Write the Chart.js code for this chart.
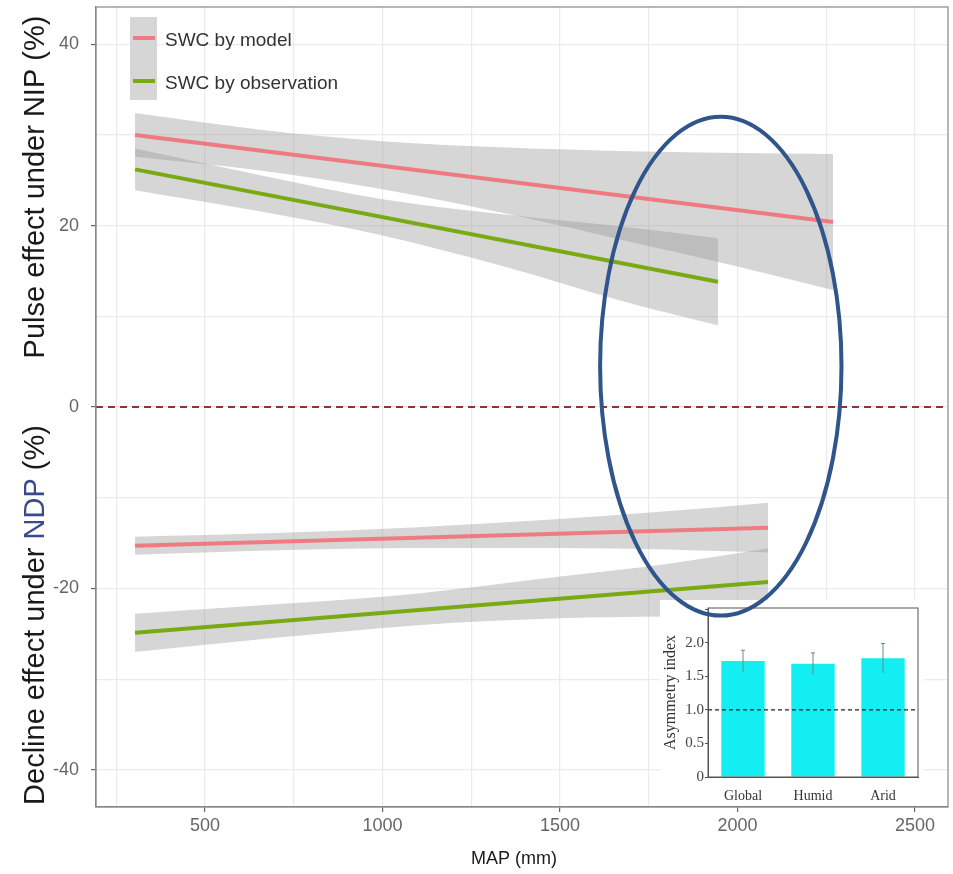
<!DOCTYPE html>
<html>
<head>
<meta charset="utf-8">
<script src="https://cdn.jsdelivr.net/npm/chart.js@4.4.0/dist/chart.umd.min.js"></script>
<style>
  html, body { margin: 0; padding: 0; background: #fff; }
  #wrap { position: relative; width: 953px; height: 874px; }
  #main { position: absolute; left: 0; top: 0; }
  #inset { position: absolute; left: 660px; top: 600px; background: #fff; }
  #overlay { position: absolute; left: 0; top: 0; pointer-events: none; }
</style>
</head>
<body>
<div id="wrap">
  <canvas id="main" width="953" height="874"></canvas>
  <canvas id="inset" width="264" height="205"></canvas>
  <canvas id="overlay" width="953" height="874"></canvas>
</div>
<script>
// tick labels
const xTickLabels = [500, 1000, 1500, 2000, 2500];
const yTickLabels = [-40, -20, 0, 20, 40];

// series names / colours
const seriesNames = ["SWC by model", "SWC by observation"];
const seriesColors = ["#ef7b82", "#79aa14"];

// upper panel: pulse effect under NIP (fit line ends + confidence band)
const nipFitX_model = [303, 2269];
const nipFit_model = [30.0, 20.4];
const nipBandX_model = [303, 650, 1000, 1350, 1700, 2000, 2269];
const nipHi_model = [32.4, 30.6, 29.3, 28.6, 28.2, 28.0, 27.9];
const nipLo_model = [27.6, 26.1, 24.0, 21.3, 18.2, 15.5, 12.9];

const nipFitX_obs = [303, 1945];
const nipFit_obs = [26.2, 13.8];
const nipBandX_obs = [303, 650, 1000, 1350, 1700, 1945];
const nipHi_obs = [28.5, 25.6, 22.9, 21.2, 19.8, 18.6];
const nipLo_obs = [23.9, 21.6, 18.9, 15.4, 11.4, 9.0];

// lower panel: decline effect under NDP
const ndpFitX = [303, 2086];
const ndpFit_model = [-15.3, -13.3];
const ndpFit_obs = [-24.9, -19.3];
const ndpBandX = [303, 700, 1100, 1500, 1800, 2086];
const ndpHi_model = [-14.3, -13.9, -13.25, -12.35, -11.5, -10.55];
const ndpLo_model = [-16.3, -15.8, -15.55, -15.55, -15.7, -16.05];
const ndpHi_obs = [-22.8, -21.75, -20.55, -18.7, -17.3, -15.6];
const ndpLo_obs = [-27.0, -25.45, -24.05, -23.3, -23.1, -23.0];

const zeroLine = 0;

// inset: asymmetry index
const insetCats = ["Global", "Humid", "Arid"];
const insetVals = [1.73, 1.69, 1.77];
const insetErr = [0.16, 0.16, 0.22];
const insetTicks = [0, 0.5, 1.0, 1.5, 2.0];
const insetRef = 1.0;

// highlight ellipse (data units)
const ellCenter = { x: 1953, y: 4.5 };
const ellRadius = { x: 340, y: 27.5 };

const BAND = "rgba(153,153,153,0.4)";
const SANS = '"Liberation Sans", Arial, sans-serif';
const SERIF = '"Liberation Serif", "Times New Roman", serif';
Chart.defaults.font.family = SANS;

function pts(xs, ys) {
  return xs.map((x, i) => ({ x: x, y: ys[i] }));
}

function fitLine(xs, ys, color) {
  return {
    data: pts(xs, ys),
    borderColor: color,
    borderWidth: 4,
    borderCapStyle: "butt",
    pointRadius: 0,
    fill: false,
    order: 0,
  };
}

function band(xs, lo, hi) {
  return [
    { data: pts(xs, lo), borderWidth: 0, pointRadius: 0, fill: false, order: 2, cubicInterpolationMode: "monotone" },
    { data: pts(xs, hi), borderWidth: 0, pointRadius: 0, fill: "-1", backgroundColor: BAND, order: 2, cubicInterpolationMode: "monotone" },
  ];
}

function drawVTitle(ctx, x, cy, parts) {
  ctx.save();
  ctx.translate(x, cy);
  ctx.rotate(-Math.PI / 2);
  ctx.font = "29px " + SANS;
  ctx.textBaseline = "alphabetic";
  ctx.textAlign = "left";
  let total = 0;
  parts.forEach((p) => (total += ctx.measureText(p.text).width));
  let pos = -total / 2;
  parts.forEach((p) => {
    ctx.fillStyle = p.color;
    ctx.fillText(p.text, pos, 0);
    pos += ctx.measureText(p.text).width;
  });
  ctx.restore();
}

const decorPlugin = {
  id: "decor",
  afterDraw(chart) {
    const ctx = chart.ctx;
    const a = chart.chartArea;
    // panel border
    ctx.save();
    ctx.strokeStyle = "#888";
    ctx.lineWidth = 1.2;
    ctx.strokeRect(a.left, a.top, a.right - a.left, a.bottom - a.top);
    ctx.restore();

    // legend
    ctx.save();
    ctx.fillStyle = "#d6d6d6";
    ctx.fillRect(130, 17, 27, 83);
    seriesNames.forEach((name, i) => {
      const y = 38 + i * 43;
      ctx.strokeStyle = seriesColors[i];
      ctx.lineWidth = 4;
      ctx.beginPath();
      ctx.moveTo(133, y);
      ctx.lineTo(155, y);
      ctx.stroke();
      ctx.fillStyle = "#333";
      ctx.font = "19px " + SANS;
      ctx.textBaseline = "middle";
      ctx.fillText(name, 165, y + 3);
    });
    ctx.restore();

    // axis titles
    drawVTitle(ctx, 44, 187, [{ text: "Pulse effect under NIP (%)", color: "#1a1a1a" }]);
    drawVTitle(ctx, 44, 615, [
      { text: "Decline effect under ", color: "#1a1a1a" },
      { text: "NDP", color: "#3b4a8c" },
      { text: " (%)", color: "#1a1a1a" },
    ]);
    ctx.save();
    ctx.font = "18px " + SANS;
    ctx.fillStyle = "#1a1a1a";
    ctx.textAlign = "center";
    ctx.textBaseline = "alphabetic";
    ctx.fillText("MAP (mm)", (a.left + a.right) / 2 - 8, 864);
    ctx.restore();

    // ellipse on overlay canvas
    const ov = document.getElementById("overlay").getContext("2d");
    const xs = chart.scales.x, ys = chart.scales.y;
    const cx = xs.getPixelForValue(ellCenter.x);
    const cy = ys.getPixelForValue(ellCenter.y);
    const rx = xs.getPixelForValue(ellCenter.x + ellRadius.x) - cx;
    const ry = cy - ys.getPixelForValue(ellCenter.y + ellRadius.y);
    ov.clearRect(0, 0, 953, 874);
    ov.strokeStyle = "#30558a";
    ov.lineWidth = 4;
    ov.beginPath();
    ov.ellipse(cx, cy, rx, ry, 0, 0, Math.PI * 2);
    ov.stroke();
  },
};

function noPad(s) {
  s.paddingTop = 0;
  s.paddingBottom = 0;
  s.paddingLeft = 0;
  s.paddingRight = 0;
}

const mainCtx = document.getElementById("main").getContext("2d");
new Chart(mainCtx, {
  type: "line",
  data: {
    datasets: [
      fitLine(nipFitX_model, nipFit_model, seriesColors[0]),
      fitLine(nipFitX_obs, nipFit_obs, seriesColors[1]),
      fitLine(ndpFitX, ndpFit_model, seriesColors[0]),
      fitLine(ndpFitX, ndpFit_obs, seriesColors[1]),
      {
        data: [{ x: 193, y: zeroLine }, { x: 2593, y: zeroLine }],
        borderColor: "#8c3535",
        borderWidth: 2,
        borderDash: [7, 5],
        pointRadius: 0,
        fill: false,
        order: 1,
      },
      ...band(nipBandX_model, nipLo_model, nipHi_model),
      ...band(nipBandX_obs, nipLo_obs, nipHi_obs),
      ...band(ndpBandX, ndpLo_model, ndpHi_model),
      ...band(ndpBandX, ndpLo_obs, ndpHi_obs),
    ],
  },
  options: {
    responsive: false,
    animation: false,
    layout: { padding: { left: 0, right: 5, top: 7, bottom: 0 } },
    plugins: { legend: { display: false }, tooltip: { enabled: false } },
    scales: {
      x: {
        type: "linear",
        min: 193,
        max: 2593,
        ticks: {
          stepSize: 250,
          includeBounds: false,
          autoSkip: false,
          maxRotation: 0,
          color: "#666",
          font: { size: 18 },
          padding: 3,
          callback: (v) => (xTickLabels.includes(v) ? String(v) : ""),
        },
        grid: {
          color: "#ebebeb",
          lineWidth: 1.2,
          tickLength: 5,
          tickColor: (c) => (c.tick && xTickLabels.includes(c.tick.value) ? "#666" : "rgba(0,0,0,0)"),
        },
        border: { color: "#888", width: 1.2 },
        afterFit: (s) => { s.height = 67; noPad(s); },
      },
      y: {
        min: -44.1,
        max: 44.1,
        ticks: {
          stepSize: 10,
          includeBounds: false,
          autoSkip: false,
          color: "#666",
          font: { size: 18 },
          padding: 12,
          callback: (v) => (yTickLabels.includes(v) ? String(v) : ""),
        },
        grid: {
          color: "#ebebeb",
          lineWidth: 1.2,
          tickLength: 5,
          tickColor: (c) => (c.tick && yTickLabels.includes(c.tick.value) ? "#666" : "rgba(0,0,0,0)"),
        },
        border: { color: "#888", width: 1.2 },
        afterFit: (s) => { s.width = 96; noPad(s); },
      },
    },
  },
  plugins: [decorPlugin],
});

// inset bar chart
const insetPlugin = {
  id: "insetDecor",
  afterDatasetsDraw(chart) {
    const ctx = chart.ctx;
    const a = chart.chartArea;
    const ys = chart.scales.y;
    const meta = chart.getDatasetMeta(0);
    ctx.save();
    // error bars
    ctx.strokeStyle = "#6a8a8a";
    ctx.lineWidth = 1;
    meta.data.forEach((bar, i) => {
      const top = ys.getPixelForValue(insetVals[i] + insetErr[i]);
      const bot = ys.getPixelForValue(insetVals[i] - insetErr[i]);
      ctx.beginPath();
      ctx.moveTo(bar.x, top);
      ctx.lineTo(bar.x, bot);
      ctx.moveTo(bar.x - 2, top);
      ctx.lineTo(bar.x + 2, top);
      ctx.stroke();
    });
    // reference line
    const yr = ys.getPixelForValue(insetRef);
    ctx.strokeStyle = "#222";
    ctx.lineWidth = 1.3;
    ctx.setLineDash([4, 3]);
    ctx.beginPath();
    ctx.moveTo(a.left, yr);
    ctx.lineTo(a.right, yr);
    ctx.stroke();
    ctx.setLineDash([]);
    // frame
    ctx.strokeStyle = "#555";
    ctx.lineWidth = 1;
    ctx.strokeRect(a.left, a.top, a.right - a.left, a.bottom - a.top);
    ctx.restore();
  },
};

const insetCtx = document.getElementById("inset").getContext("2d");
new Chart(insetCtx, {
  type: "bar",
  data: {
    labels: insetCats,
    datasets: [
      {
        data: insetVals,
        backgroundColor: "#12eef2",
        borderWidth: 0,
        categoryPercentage: 1,
        barPercentage: 0.62,
      },
    ],
  },
  options: {
    responsive: false,
    animation: false,
    layout: { padding: { left: 1, right: 6, top: 8, bottom: 0 } },
    plugins: { legend: { display: false }, tooltip: { enabled: false } },
    scales: {
      x: {
        grid: { display: false },
        border: { color: "#555" },
        ticks: { color: "#333", font: { family: SERIF, size: 14 }, padding: 3 },
        afterFit: (s) => { s.height = 28; noPad(s); },
      },
      y: {
        min: 0,
        max: 2.52,
        ticks: {
          stepSize: 0.5,
          includeBounds: false,
          color: "#444",
          font: { family: SERIF, size: 15 },
          padding: 1,
          callback: (v) => (insetTicks.includes(v) ? (v === 0 ? "0" : v.toFixed(1)) : ""),
        },
        grid: { drawOnChartArea: false, tickLength: 3, color: "#555" },
        border: { color: "#555" },
        title: {
          display: true,
          text: "Asymmetry index",
          color: "#333",
          font: { family: SERIF, size: 16 },
          padding: 0,
        },
        afterFit: (s) => { s.width = 47; noPad(s); },
      },
    },
  },
  plugins: [insetPlugin],
});
</script>
</body>
</html>
